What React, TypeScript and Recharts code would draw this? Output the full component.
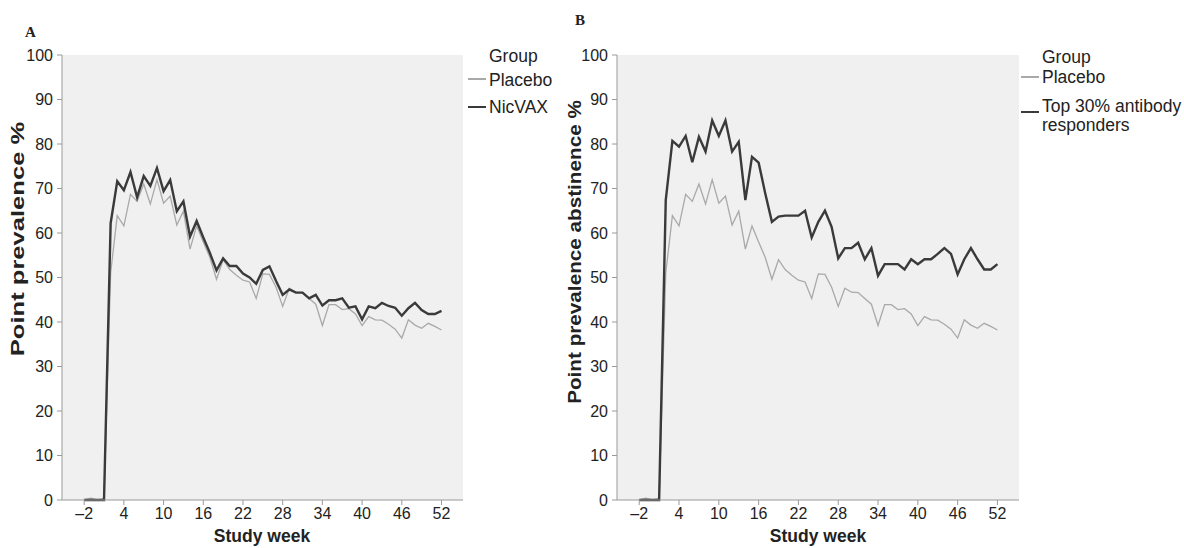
import { LineChart, Line, XAxis, YAxis, CartesianGrid } from "recharts";

// study weeks -2 .. 52 (one point per week)
const WEEKS = [
  -2, -1, 0, 1, 2, 3, 4, 5, 6, 7, 8, 9, 10, 11, 12, 13, 14, 15, 16, 17, 18, 19, 20,
  21, 22, 23, 24, 25, 26, 27, 28, 29, 30, 31, 32, 33, 34, 35, 36, 37, 38, 39, 40,
  41, 42, 43, 44, 45, 46, 47, 48, 49, 50, 51, 52,
];

const PLACEBO = [
  0, 0.4, 0, 0.3, 51, 63.9, 61.6, 68.7, 67.1, 71, 66.5, 72, 66.7, 68.3, 61.8, 64.9,
  56.4, 61.6, 58, 54.5, 49.6, 54, 51.8, 50.5, 49.4, 49, 45.3, 50.8, 50.7, 47.8, 43.5,
  47.6, 46.7, 46.6, 45.3, 44, 39.2, 43.9, 43.9, 42.8, 43, 41.8, 39.2, 41.2, 40.5,
  40.4, 39.5, 38.4, 36.4, 40.5, 39.3, 38.6, 39.7, 39, 38.2,
];

const NICVAX = [
  0, 0, 0, 0, 62.2, 71.6, 69.6, 73.7, 68, 72.8, 70.6, 74.6, 69.4, 71.9, 64.9, 67.1,
  59.2, 62.7, 59, 55.5, 51.6, 54.3, 52.6, 52.6, 50.9, 50, 48.6, 51.7, 52.5, 49.2,
  46.1, 47.3, 46.6, 46.6, 45.3, 46.1, 43.7, 44.9, 44.9, 45.3, 43.2, 43.5, 40.6,
  43.5, 43.1, 44.3, 43.6, 43.2, 41.4, 43.1, 44.3, 42.7, 41.8, 41.8, 42.5,
];

const TOP30 = [
  0, 0, 0, 0, 67.4, 80.7, 79.4, 81.8, 75.9, 81.6, 78.3, 85.3, 81.8, 85.3, 78.3, 80.5,
  67.4, 77.1, 75.8, 68.9, 62.5, 63.7, 63.9, 63.9, 63.9, 65, 59, 62.5, 65, 61.4, 54.3,
  56.6, 56.6, 57.8, 54.1, 56.6, 50.4, 53, 53, 53, 51.8, 54.1, 53, 54.1, 54.1, 55.3,
  56.6, 55.3, 50.7, 54.1, 56.6, 54.1, 51.8, 51.8, 53,
];

const X_TICKS = [-2, 4, 10, 16, 22, 28, 34, 40, 46, 52];
const Y_TICKS = [0, 10, 20, 30, 40, 50, 60, 70, 80, 90, 100];
const X_DOMAIN: [number, number] = [-5.35, 55.25];

const FONT = '"Liberation Sans", Arial, Helvetica, sans-serif';
const SERIF = '"Liberation Serif", "Times New Roman", serif';
const DARK = "#3a3a3a";
const LIGHT = "#a9a9a9";
const AXIS = "#9a9a9a";
const TEXT = "#222";

const fmtWeek = (v: number) => (v < 0 ? `\u2013${-v}` : String(v));

function Panel({ left, width, treat }: { left: number; width: number; treat: number[] }) {
  const data = WEEKS.map((week, i) => ({ week, placebo: PLACEBO[i], treat: treat[i] }));
  const tick = { fill: TEXT, fontSize: 16, fontFamily: FONT };
  return (
    <div style={{ position: "absolute", left, top: 0 }}>
      <LineChart width={width} height={548} data={data} margin={{ top: 55, right: 7, bottom: 0, left: 0 }}>
        <CartesianGrid fill="#f0f0f0" horizontal={false} vertical={false} />
        <XAxis
          dataKey="week"
          type="number"
          domain={X_DOMAIN}
          ticks={X_TICKS}
          interval={0}
          tickFormatter={fmtWeek}
          height={48}
          tickSize={5}
          tickMargin={3}
          stroke={AXIS}
          tick={tick}
        />
        <XAxis xAxisId="top" orientation="top" type="number" domain={X_DOMAIN} height={0} tick={false} tickLine={false} stroke={AXIS} />
        <YAxis
          domain={[0, 100]}
          ticks={Y_TICKS}
          interval={0}
          width={62}
          tickSize={5}
          tickMargin={4}
          stroke={AXIS}
          tick={tick}
        />
        <YAxis yAxisId="right" orientation="right" domain={[0, 100]} width={0} tick={false} tickLine={false} stroke={AXIS} />
        <Line dataKey="placebo" type="linear" stroke={LIGHT} strokeWidth={1.3} dot={false} isAnimationActive={false} />
        <Line dataKey="treat" type="linear" stroke={DARK} strokeWidth={2.4} dot={false} isAnimationActive={false} />
      </LineChart>
    </div>
  );
}

const txt = { position: "absolute" as const, fontFamily: FONT, color: TEXT, fontSize: 17.5, lineHeight: "20px", whiteSpace: "nowrap" as const };
const axisTitle = { ...txt, fontWeight: 700, fontSize: 18 };

function Sample({ x, y, color, w }: { x: number; y: number; color: string; w: number }) {
  return <div style={{ position: "absolute", left: x, top: y - w / 2, width: 18, height: w, background: color }} />;
}

export default function App() {
  return (
    <div style={{ position: "absolute", left: 0, top: 0, width: 1184, height: 548, background: "#fff", overflow: "hidden" }}>
      <Panel left={0} width={470} treat={NICVAX} />
      <Panel left={555} width={471} treat={TOP30} />

      {/* panel letters */}
      <div style={{ ...txt, fontFamily: SERIF, fontWeight: 700, fontSize: 15, left: 25, top: 22 }}>A</div>
      <div style={{ ...txt, fontFamily: SERIF, fontWeight: 700, fontSize: 15, left: 575, top: 10 }}>B</div>

      {/* y axis titles */}
      <div style={{ ...axisTitle, left: 18, top: 239, transform: "translate(-50%, -50%) rotate(-90deg) scaleX(1.42)" }}>
        Point prevalence %
      </div>
      <div style={{ ...axisTitle, left: 575, top: 252, transform: "translate(-50%, -50%) rotate(-90deg) scaleX(1.15)" }}>
        Point prevalence abstinence %
      </div>

      {/* x axis titles */}
      <div style={{ ...txt, fontWeight: 700, left: 262, top: 536, transform: "translate(-50%, -50%)" }}>Study week</div>
      <div style={{ ...txt, fontWeight: 700, left: 818, top: 536, transform: "translate(-50%, -50%)" }}>Study week</div>

      {/* legend A */}
      <div style={{ ...txt, left: 489, top: 46 }}>Group</div>
      <Sample x={468} y={79} color={LIGHT} w={1.5} />
      <div style={{ ...txt, left: 489, top: 70 }}>Placebo</div>
      <Sample x={468} y={107} color={DARK} w={2.5} />
      <div style={{ ...txt, left: 489, top: 97 }}>NicVAX</div>

      {/* legend B */}
      <div style={{ ...txt, left: 1042, top: 47 }}>Group</div>
      <Sample x={1021} y={77} color={LIGHT} w={1.5} />
      <div style={{ ...txt, left: 1042, top: 67 }}>Placebo</div>
      <Sample x={1021} y={112} color={DARK} w={2.5} />
      <div style={{ ...txt, left: 1042, top: 97, lineHeight: "19px" }}>
        Top 30% antibody
        <br />
        responders
      </div>
    </div>
  );
}
